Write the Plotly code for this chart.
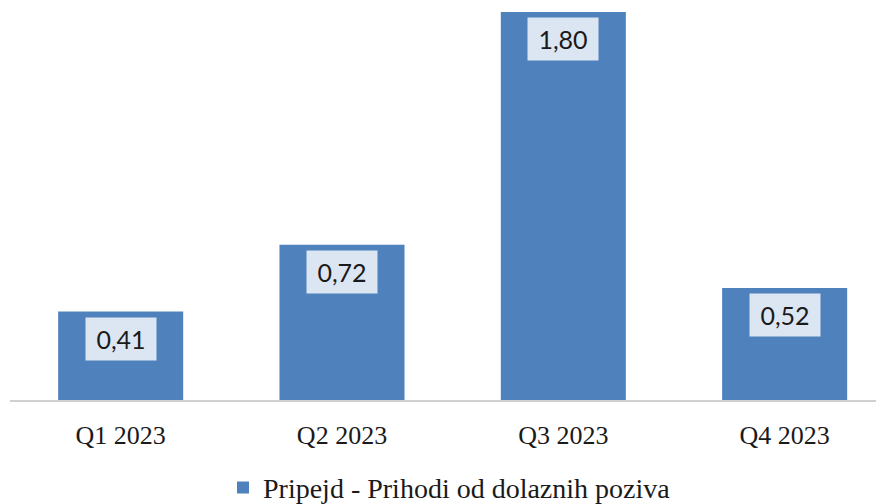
import plotly.graph_objects as go

kvartali = ["Q1 2023", "Q2 2023", "Q3 2023", "Q4 2023"]
prihodi = [0.41, 0.72, 1.80, 0.52]
naziv_serije = "Pripejd - Prihodi od dolaznih poziva"

fig = go.Figure()
fig.add_trace(go.Bar(
    x=kvartali, y=prihodi, name=naziv_serije,
    marker=dict(color="#4f81bd", line=dict(width=0)),
    width=0.565,
))

# oznake vrijednosti u svijetlom okviru pri vrhu stupca
for k, v in zip(kvartali, prihodi):
    fig.add_annotation(
        x=k, y=v, text=f"{v:.2f}".replace(".", ","),
        showarrow=False, yanchor="top", yshift=-5,
        width=68, height=40, bgcolor="#dce6f2",
        font=dict(family="Lato", size=25, color="#1a1a1a"),
    )

# stranica ima 8px margine u body, pa su margine figure pomaknute za to
fig.update_layout(
    width=884, height=504,
    margin=dict(l=2, r=0, t=4, b=112),
    plot_bgcolor="white", paper_bgcolor="white",
    showlegend=True,
    legend=dict(
        orientation="h", x=0.2415, xanchor="left",
        yref="container", y=0.048, yanchor="middle",
        font=dict(family="Liberation Serif", size=28, color="#1a1a1a"),
    ),
    xaxis=dict(
        range=[-0.5, 3.485], showgrid=False, showline=True,
        linecolor="#d0d0d0", linewidth=1.5, ticks="",
        ticklabelstandoff=11,
        tickfont=dict(family="Liberation Serif", size=26, color="#1a1a1a"),
    ),
    yaxis=dict(range=[0, 1.8], visible=False),
)

fig.write_html("out.html")
